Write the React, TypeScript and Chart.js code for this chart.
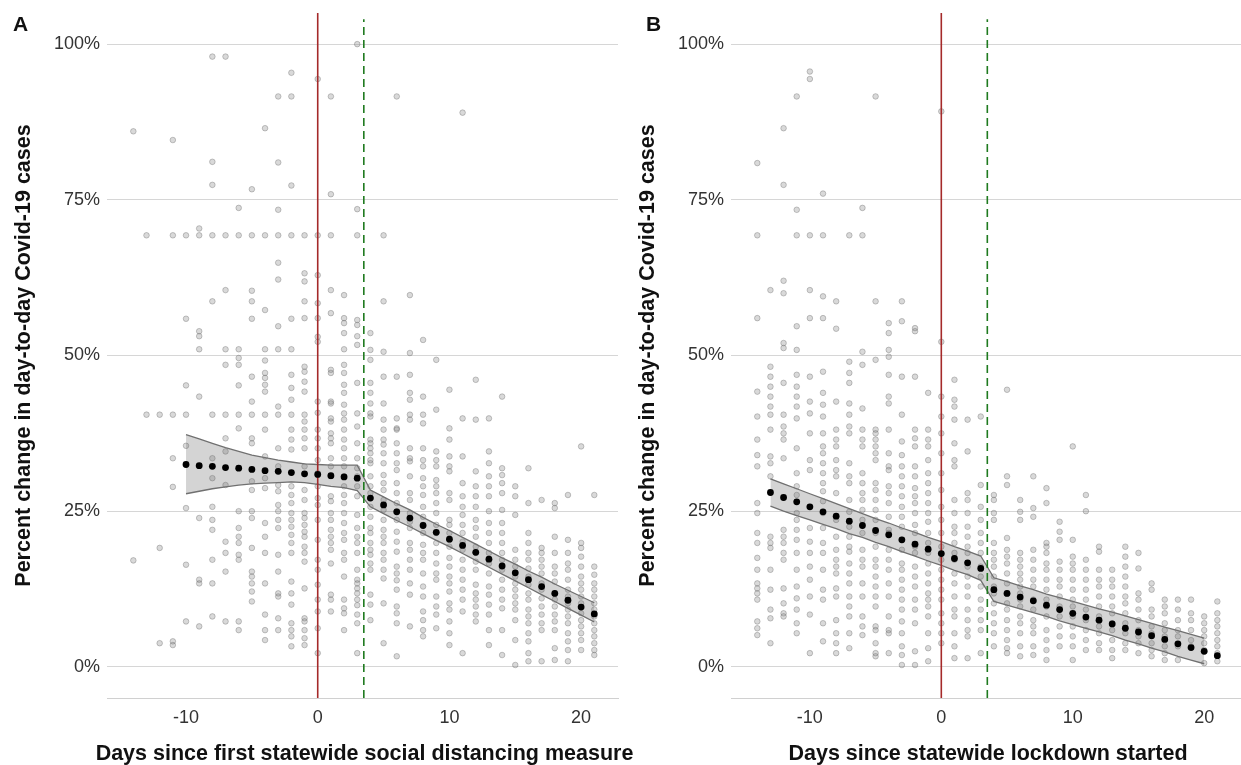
import React, { useEffect, useRef } from "react";
import { Chart, registerables } from "chart.js";

Chart.register(...registerables);

const FONT = "'Liberation Sans', Arial, Helvetica, sans-serif";

const X_MIN = -16;
const X_MAX = 22.8;
const Y_MIN = -5;
const Y_MAX = 105;
const X_TICKS = [-10, 0, 10, 20];
const Y_TICKS = [0, 25, 50, 75, 100];
const START_DAY = 0;
const LAG_DAY = 3.5;

const Y_TITLE = "Percent change in day-to-day Covid-19 cases";
const X_TITLE_A = "Days since first statewide social distancing measure";
const X_TITLE_B = "Days since statewide lockdown started";

// ---------- Panel A ----------
const scatterDaysA = [-14, -13, -12, -11, -10, -9, -8, -7, -6, -5, -4, -3, -2, -1, 0, 1, 2, 3, 4, 5, 6, 7, 8, 9, 10, 11, 12, 13, 14, 15, 16, 17, 18, 19, 20, 21];
const scatterValuesA = [
  [86.0, 17.1],
  [69.3, 40.5],
  [40.5, 19.1, 3.8],
  [84.6, 69.3, 40.5, 33.5, 28.9, 4.1, 3.5],
  [69.3, 55.9, 45.2, 40.5, 35.5, 25.5, 16.4, 7.3],
  [70.4, 69.3, 53.9, 53.1, 51.0, 43.4, 23.9, 14.0, 13.4, 6.5],
  [98.0, 81.1, 77.4, 69.3, 58.7, 40.5, 33.5, 30.3, 25.7, 23.6, 22.0, 17.2, 13.4, 8.1],
  [98.0, 69.3, 60.5, 51.0, 48.5, 40.5, 36.7, 34.6, 29.2, 20.1, 18.3, 15.3, 7.3],
  [73.7, 69.3, 51.0, 49.6, 48.5, 45.2, 40.5, 38.3, 25.0, 22.3, 20.9, 19.9, 18.0, 17.2, 7.3, 5.9],
  [76.7, 69.3, 60.4, 58.7, 55.9, 46.6, 42.6, 40.5, 36.7, 35.9, 29.8, 28.4, 25.0, 23.9, 19.1, 15.3, 14.5, 13.4, 12.1, 10.5],
  [86.5, 69.3, 57.3, 51.0, 49.2, 47.2, 46.4, 45.3, 44.2, 40.5, 38.1, 33.8, 30.3, 28.7, 23.1, 20.9, 18.3, 13.4, 8.4, 5.9, 4.3],
  [91.6, 81.0, 73.4, 69.3, 64.9, 62.2, 54.7, 51.0, 41.8, 40.5, 35.1, 32.2, 29.2, 28.2, 26.0, 25.0, 23.6, 22.3, 18.0, 15.3, 11.8, 11.3, 7.8, 5.9],
  [95.4, 91.6, 77.3, 69.3, 55.9, 51.0, 46.9, 44.8, 42.9, 40.5, 38.1, 36.5, 34.9, 29.0, 27.6, 26.3, 24.7, 23.6, 22.5, 21.2, 19.9, 18.3, 13.7, 11.8, 10.0, 7.0, 5.9, 4.9, 3.3],
  [69.3, 63.2, 61.9, 58.7, 56.0, 48.2, 47.4, 45.8, 44.2, 40.5, 39.4, 38.1, 36.7, 35.1, 32.2, 28.4, 26.8, 24.7, 23.9, 22.8, 21.7, 20.9, 19.3, 18.3, 16.9, 12.6, 7.8, 7.3, 5.9, 4.6, 3.5],
  [94.4, 69.3, 62.9, 58.4, 56.0, 53.0, 52.2, 42.6, 40.8, 38.1, 36.7, 35.1, 33.2, 31.1, 29.0, 27.1, 26.0, 23.6, 20.4, 17.2, 15.6, 13.2, 10.8, 8.9, 6.2, 2.2],
  [91.6, 75.9, 69.3, 60.5, 56.8, 47.7, 47.2, 42.6, 42.3, 39.9, 39.4, 37.5, 36.7, 35.9, 33.5, 32.2, 30.6, 27.4, 26.6, 24.7, 23.6, 22.0, 20.9, 19.9, 18.8, 16.6, 11.6, 10.8, 8.9],
  [59.7, 56.0, 55.2, 53.6, 51.0, 48.5, 47.2, 45.3, 44.0, 42.1, 40.7, 39.7, 38.1, 36.5, 35.1, 33.5, 32.2, 30.6, 29.0, 27.6, 26.3, 24.7, 23.1, 21.5, 20.4, 18.3, 17.2, 14.5, 10.8, 9.4, 8.6, 5.9],
  [100.0, 73.5, 69.3, 55.7, 54.9, 53.1, 51.7, 45.6, 40.7, 38.6, 35.9, 33.5, 31.9, 30.6, 29.0, 27.4, 24.4, 22.3, 20.9, 19.9, 18.3, 15.6, 14.0, 13.4, 12.6, 11.8, 10.8, 9.9, 8.4, 7.0, 2.2],
  [53.6, 50.9, 49.3, 45.6, 44.0, 42.3, 40.7, 40.2, 36.5, 35.9, 35.1, 34.3, 33.2, 32.7, 30.6, 29.0, 27.9, 25.7, 24.1, 22.3, 21.5, 19.9, 18.8, 18.0, 16.6, 15.6, 11.6, 10.0, 7.5],
  [69.3, 58.7, 50.6, 46.6, 42.3, 39.7, 38.1, 36.5, 35.7, 34.3, 32.7, 30.8, 29.5, 28.4, 26.8, 25.2, 23.6, 22.0, 20.9, 19.9, 18.3, 17.2, 15.6, 14.2, 10.2, 3.8],
  [91.6, 46.6, 39.9, 38.3, 38.1, 35.9, 34.3, 32.7, 31.6, 29.5, 27.9, 26.3, 25.0, 23.6, 21.7, 20.1, 18.5, 16.1, 15.0, 13.9, 12.4, 9.7, 8.6, 7.0, 1.7],
  [59.7, 50.4, 46.9, 44.0, 42.9, 40.5, 39.7, 35.1, 33.5, 33.0, 30.6, 27.9, 26.8, 24.7, 23.3, 22.3, 19.9, 18.8, 17.2, 15.6, 13.4, 11.6, 6.5],
  [52.5, 43.4, 40.5, 39.1, 35.1, 33.2, 32.2, 30.3, 29.0, 27.6, 25.7, 24.1, 22.8, 21.5, 19.6, 18.3, 17.2, 15.0, 12.9, 11.3, 8.9, 7.5, 5.9, 4.9],
  [49.3, 41.3, 34.6, 33.2, 32.2, 30.0, 29.0, 27.9, 26.3, 24.7, 22.8, 21.5, 19.9, 18.3, 16.6, 15.0, 14.0, 11.3, 9.7, 8.4, 6.2],
  [44.5, 38.3, 36.5, 33.8, 32.2, 31.4, 27.9, 26.8, 23.6, 22.8, 21.5, 20.4, 19.3, 17.5, 16.1, 14.5, 13.4, 12.1, 10.2, 9.2, 7.3, 5.4, 3.5],
  [89.0, 39.9, 33.8, 29.5, 27.4, 25.7, 24.4, 22.8, 21.5, 20.1, 18.8, 17.2, 15.6, 14.0, 12.4, 10.8, 8.9, 2.2],
  [46.1, 39.7, 31.4, 29.0, 27.4, 25.7, 23.6, 22.3, 20.9, 19.3, 18.3, 16.9, 15.6, 13.2, 11.8, 10.8, 9.7, 8.4, 7.3],
  [39.9, 34.6, 32.7, 30.6, 29.0, 27.4, 25.0, 23.1, 21.5, 19.9, 18.3, 16.6, 15.0, 12.9, 11.6, 10.0, 8.4, 5.9, 3.5],
  [43.4, 31.9, 30.8, 29.5, 27.9, 25.2, 23.1, 21.5, 19.9, 18.3, 17.2, 15.6, 14.0, 12.4, 10.8, 9.4, 5.9, 1.9],
  [29.0, 27.4, 24.4, 18.8, 17.2, 16.1, 14.5, 13.4, 12.4, 11.3, 10.2, 9.2, 7.5, 4.3, 0.3],
  [31.9, 26.3, 21.5, 19.9, 18.3, 17.2, 15.8, 14.5, 13.2, 11.8, 10.8, 9.2, 8.1, 7.0, 5.4, 4.1, 2.2, 0.9],
  [26.8, 19.1, 18.3, 17.2, 16.1, 15.0, 13.4, 12.4, 11.0, 9.7, 8.4, 7.0, 5.9, 0.9],
  [26.3, 25.5, 20.9, 18.3, 16.1, 15.0, 13.7, 11.8, 10.8, 9.7, 8.4, 7.3, 5.9, 3.0, 1.1],
  [27.6, 20.4, 18.3, 16.6, 15.6, 14.0, 12.4, 11.3, 10.2, 9.2, 8.1, 7.0, 5.4, 4.1, 2.7, 0.9],
  [35.4, 19.9, 19.1, 17.7, 16.1, 14.5, 13.4, 12.4, 11.3, 10.2, 8.6, 7.5, 6.5, 5.4, 4.3, 2.7],
  [27.6, 16.1, 14.8, 13.4, 12.4, 11.3, 10.2, 9.2, 8.1, 7.0, 5.9, 4.9, 3.8, 2.7, 1.9],
];
const fitDaysA = [-10, -9, -8, -7, -6, -5, -4, -3, -2, -1, 0, 1, 2, 3, 4, 5, 6, 7, 8, 9, 10, 11, 12, 13, 14, 15, 16, 17, 18, 19, 20, 21];
const fitA = [32.5, 32.3, 32.2, 32.0, 31.9, 31.7, 31.5, 31.4, 31.2, 31.0, 30.9, 30.7, 30.5, 30.3, 27.1, 26.0, 24.9, 23.9, 22.7, 21.6, 20.5, 19.5, 18.4, 17.3, 16.2, 15.1, 14.0, 12.9, 11.8, 10.7, 9.6, 8.5];
const bandDaysA = fitDaysA;
const bandUpperA = [37.3, 36.6, 35.9, 35.2, 34.6, 34.0, 33.6, 33.2, 32.9, 32.6, 32.5, 32.4, 32.4, 32.4, 28.4, 27.3, 26.2, 25.2, 24.0, 22.9, 21.9, 20.8, 19.7, 18.6, 17.5, 16.5, 15.4, 14.4, 13.3, 12.3, 11.3, 10.3];
const bandLowerA = [27.8, 28.2, 28.6, 28.9, 29.2, 29.4, 29.5, 29.6, 29.7, 29.6, 29.3, 29.0, 28.8, 28.3, 25.7, 24.6, 23.5, 22.5, 21.4, 20.3, 19.3, 18.2, 17.1, 16.0, 14.9, 13.8, 12.7, 11.6, 10.5, 9.4, 8.3, 7.2];

// ---------- Panel B ----------
const scatterDaysB = [-14, -13, -12, -11, -10, -9, -8, -7, -6, -5, -4, -3, -2, -1, 0, 1, 2, 3, 4, 5, 6, 7, 8, 9, 10, 11, 12, 13, 14, 15, 16, 17, 18, 19, 20, 21];
const scatterValuesB = [
  [80.9, 69.3, 56.0, 44.2, 40.2, 36.5, 34.0, 32.2, 26.3, 24.7, 21.5, 19.9, 17.5, 15.6, 13.4, 12.6, 11.8, 10.8, 7.3, 6.2, 5.1],
  [60.5, 48.2, 46.6, 45.0, 43.4, 41.8, 40.5, 38.1, 33.8, 32.7, 30.6, 20.9, 19.9, 19.1, 15.6, 12.4, 9.2, 7.8, 3.8],
  [86.5, 77.4, 62.0, 60.0, 52.0, 51.2, 45.6, 40.5, 38.6, 37.5, 36.5, 33.5, 22.0, 20.9, 19.9, 18.3, 17.2, 12.6, 10.2, 8.6, 8.1],
  [91.6, 73.4, 69.3, 54.7, 50.9, 46.9, 45.0, 43.4, 41.8, 39.9, 35.1, 31.1, 29.0, 27.6, 24.7, 23.6, 22.0, 20.4, 18.3, 15.6, 12.9, 11.0, 9.2, 7.0, 5.4],
  [95.6, 94.4, 69.3, 60.5, 56.0, 46.6, 42.6, 40.7, 37.5, 33.2, 31.6, 22.3, 20.1, 18.3, 16.1, 14.0, 11.3, 8.4, 2.2],
  [76.0, 69.3, 59.5, 56.0, 47.4, 44.0, 42.1, 40.2, 37.5, 35.4, 34.3, 32.7, 31.1, 29.5, 28.2, 26.6, 24.7, 22.3, 19.9, 18.3, 15.6, 12.4, 10.8, 7.0, 4.1],
  [58.7, 54.3, 42.6, 38.1, 36.5, 35.4, 33.2, 31.6, 30.6, 27.9, 23.6, 20.9, 18.8, 17.2, 16.1, 15.0, 12.6, 11.3, 7.5, 5.4, 3.8, 2.2],
  [69.3, 49.0, 47.2, 45.6, 42.3, 40.5, 38.6, 37.5, 32.7, 30.6, 29.5, 26.8, 24.9, 22.5, 20.9, 19.3, 18.5, 16.6, 15.0, 13.4, 11.3, 9.7, 8.1, 5.4, 3.0],
  [73.7, 69.3, 50.6, 48.5, 41.5, 38.1, 36.5, 35.4, 31.1, 29.5, 27.9, 26.8, 25.2, 23.6, 21.5, 18.8, 17.2, 16.1, 13.4, 11.3, 8.1, 6.5, 5.1],
  [91.6, 58.7, 49.3, 38.1, 37.5, 36.5, 35.4, 34.3, 33.2, 29.5, 28.4, 26.8, 25.2, 23.6, 21.5, 19.3, 17.2, 16.1, 14.5, 12.9, 11.3, 9.7, 6.5, 5.9, 3.8, 2.2, 1.7],
  [55.2, 53.6, 50.9, 49.8, 46.9, 43.4, 42.3, 38.1, 34.3, 32.2, 31.6, 29.0, 27.9, 26.3, 24.1, 22.0, 21.5, 18.8, 17.2, 15.6, 13.4, 11.3, 8.1, 5.9, 5.4, 2.2],
  [58.7, 55.5, 46.6, 40.5, 36.2, 34.0, 32.2, 30.6, 29.0, 27.4, 25.7, 24.1, 22.5, 20.4, 18.8, 16.6, 15.6, 14.0, 12.4, 10.8, 9.2, 7.3, 5.4, 3.3, 1.9, 0.3],
  [54.4, 53.9, 46.6, 38.1, 36.7, 35.4, 32.2, 30.6, 28.7, 27.4, 26.3, 24.7, 22.8, 21.5, 19.3, 18.3, 16.1, 14.5, 12.9, 10.8, 9.2, 7.0, 2.5, 0.3],
  [44.0, 38.1, 36.5, 35.4, 33.2, 31.1, 29.5, 27.9, 26.3, 24.7, 23.3, 21.5, 19.9, 18.3, 16.6, 15.0, 13.4, 11.8, 10.8, 9.7, 8.1, 5.4, 3.0, 0.9],
  [89.2, 52.2, 43.4, 40.2, 37.5, 34.3, 31.1, 28.4, 25.7, 23.6, 21.5, 19.3, 17.2, 15.6, 14.0, 12.4, 10.8, 8.6, 7.0, 5.4, 3.8],
  [46.1, 42.9, 41.8, 39.7, 35.9, 33.2, 32.2, 26.8, 24.7, 22.5, 21.5, 19.9, 18.3, 17.2, 15.0, 13.4, 11.3, 9.2, 8.1, 5.4, 3.3, 1.4],
  [39.7, 34.6, 27.9, 26.8, 24.7, 22.5, 20.9, 19.3, 18.3, 16.1, 14.5, 12.9, 11.3, 9.2, 7.5, 5.9, 4.9, 1.4],
  [40.2, 29.2, 25.7, 23.6, 21.5, 19.9, 18.3, 16.1, 14.5, 12.9, 10.8, 9.2, 7.5, 5.9, 2.2],
  [27.6, 26.8, 24.7, 23.6, 19.9, 18.3, 17.2, 16.1, 14.5, 12.9, 11.8, 10.2, 8.6, 7.0, 5.4, 3.3],
  [44.5, 30.6, 29.2, 20.7, 18.8, 17.7, 16.6, 15.0, 13.4, 11.8, 10.2, 9.2, 7.5, 5.9, 4.3, 3.0, 2.2],
  [26.8, 24.9, 23.6, 18.3, 17.2, 16.1, 15.0, 14.0, 12.9, 11.8, 10.8, 9.7, 8.1, 7.0, 5.4, 3.3, 1.7],
  [30.6, 25.5, 24.1, 18.8, 17.2, 15.6, 14.0, 12.9, 10.8, 9.2, 7.5, 6.5, 5.4, 3.3, 1.9],
  [28.7, 26.3, 19.9, 19.3, 18.3, 16.6, 15.6, 14.0, 12.4, 10.8, 9.7, 8.1, 5.9, 4.3, 2.7, 1.1],
  [23.3, 21.7, 20.4, 16.9, 15.6, 14.0, 12.9, 11.3, 9.7, 8.1, 6.5, 4.9, 3.3],
  [35.4, 20.4, 17.7, 16.6, 15.6, 14.0, 12.4, 10.8, 9.7, 8.1, 6.5, 4.9, 3.3, 1.1],
  [27.6, 25.0, 17.2, 15.6, 14.0, 12.4, 10.8, 9.2, 7.5, 5.9, 4.3, 2.7],
  [19.3, 18.5, 15.6, 14.0, 12.9, 11.3, 9.7, 8.1, 6.5, 5.4, 3.8, 2.7],
  [15.6, 14.0, 12.9, 11.3, 9.7, 8.6, 7.0, 5.9, 4.3, 2.7, 1.4],
  [19.3, 17.7, 16.1, 14.5, 12.9, 11.3, 10.2, 8.6, 7.0, 5.4, 3.8, 2.7],
  [18.3, 15.8, 11.8, 10.8, 9.2, 7.5, 5.9, 4.9, 3.8, 2.2],
  [13.4, 12.4, 9.2, 8.1, 6.5, 5.4, 3.8, 2.7, 1.7],
  [10.8, 9.7, 8.6, 7.0, 5.9, 4.9, 3.3, 2.2, 1.1],
  [10.8, 9.2, 7.5, 5.9, 4.9, 3.3, 1.1],
  [10.8, 8.6, 7.5, 5.9, 4.3, 3.3],
  [8.1, 7.0, 5.9, 4.9, 3.8, 2.7, 0.6],
  [10.5, 8.6, 7.5, 6.5, 5.4, 4.3, 3.3, 2.2, 0.9],
];
const fitDaysB = [-13, -12, -11, -10, -9, -8, -7, -6, -5, -4, -3, -2, -1, 0, 1, 2, 3, 4, 5, 6, 7, 8, 9, 10, 11, 12, 13, 14, 15, 16, 17, 18, 19, 20, 21];
const fitB = [28.0, 27.2, 26.5, 25.7, 24.9, 24.2, 23.4, 22.7, 21.9, 21.2, 20.4, 19.7, 18.9, 18.2, 17.4, 16.7, 15.8, 12.4, 11.8, 11.2, 10.6, 9.9, 9.2, 8.6, 8.0, 7.5, 6.9, 6.2, 5.6, 5.0, 4.4, 3.7, 3.1, 2.5, 1.8];
const bandDaysB = [-13, -12, -11, -10, -9, -8, -7, -6, -5, -4, -3, -2, -1, 0, 1, 2, 3, 4, 5, 6, 7, 8, 9, 10, 11, 12, 13, 14, 15, 16, 17, 18, 19, 20];
const bandUpperB = [30.2, 29.4, 28.6, 27.8, 27.0, 26.2, 25.4, 24.6, 23.8, 23.1, 22.3, 21.6, 20.8, 20.1, 19.3, 18.6, 17.8, 14.3, 13.7, 13.0, 12.4, 11.7, 11.1, 10.5, 9.9, 9.3, 8.8, 8.2, 7.6, 7.0, 6.4, 5.8, 5.2, 4.6];
const bandLowerB = [25.8, 25.0, 24.3, 23.6, 22.9, 22.2, 21.4, 20.8, 20.0, 19.3, 18.5, 17.8, 17.0, 16.3, 15.5, 14.8, 13.9, 10.5, 9.9, 9.3, 8.7, 8.1, 7.4, 6.8, 6.2, 5.6, 5.0, 4.3, 3.7, 3.0, 2.4, 1.7, 1.1, 0.5];

type PanelProps = {
  scatterDays: number[];
  scatterValues: number[][];
  fitDays: number[];
  fitValues: number[];
  bandDays: number[];
  bandUpper: number[];
  bandLower: number[];
  xTitle: string;
  width: number;
  left: number;
  padRight: number;
};

const TITLE_SIZE = 21.5;

// Draws the x-axis title centred under the plot area, allowed to be wider than the plot.
const xTitlePlugin = {
  id: "wideXTitle",
  afterDraw(chart: any, _args: any, opts: any) {
    const { ctx, chartArea } = chart;
    ctx.save();
    ctx.font = `bold ${TITLE_SIZE}px ${FONT}`;
    ctx.fillStyle = "#111111";
    ctx.textAlign = "center";
    ctx.textBaseline = "alphabetic";
    ctx.fillText(opts.text, (chartArea.left + chartArea.right) / 2 + 2, 760);
    ctx.restore();
  },
};

function Panel(p: PanelProps) {
  const ref = useRef<HTMLCanvasElement>(null);
  useEffect(() => {
    if (!ref.current) return;
    const scatter: { x: number; y: number }[] = [];
    p.scatterDays.forEach((d, i) => {
      p.scatterValues[i].forEach((v) => scatter.push({ x: d, y: v }));
    });
    const chart = new Chart(ref.current, {
      type: "line",
      plugins: [xTitlePlugin],
      data: {
        datasets: [
          {
            label: "fit",
            data: p.fitDays.map((d, i) => ({ x: d, y: p.fitValues[i] })),
            showLine: false,
            pointRadius: 3.4,
            pointBackgroundColor: "#000000",
            pointBorderWidth: 0,
          },
          {
            label: "start",
            data: [
              { x: START_DAY, y: Y_MIN },
              { x: START_DAY, y: Y_MAX },
            ],
            borderColor: "#a52a2a",
            borderWidth: 1.6,
            pointRadius: 0,
          },
          {
            label: "lag",
            data: [
              { x: LAG_DAY, y: Y_MIN },
              { x: LAG_DAY, y: 104 },
            ],
            borderColor: "#1f7a1f",
            borderWidth: 1.6,
            borderDash: [8, 5],
            pointRadius: 0,
          },
          {
            label: "upper",
            data: p.bandDays.map((d, i) => ({ x: d, y: p.bandUpper[i] })),
            borderColor: "#707070",
            borderWidth: 1.3,
            pointRadius: 0,
            fill: false,
          },
          {
            label: "lower",
            data: p.bandDays.map((d, i) => ({ x: d, y: p.bandLower[i] })),
            borderColor: "#707070",
            borderWidth: 1.3,
            pointRadius: 0,
            fill: "-1",
            backgroundColor: "rgba(100,100,100,0.28)",
          },
          {
            label: "obs",
            data: scatter,
            showLine: false,
            pointRadius: 2.8,
            pointBackgroundColor: "rgba(130,130,130,0.3)",
            pointBorderColor: "rgba(100,100,100,0.4)",
            pointBorderWidth: 0.9,
          },
        ],
      },
      options: {
        animation: false,
        responsive: false,
        events: [],
        layout: { autoPadding: false, padding: { top: 13, right: p.padRight, bottom: 0, left: 0 } },
        plugins: {
          legend: { display: false },
          tooltip: { enabled: false },
          wideXTitle: { text: p.xTitle },
        },
        scales: {
          x: {
            type: "linear",
            min: X_MIN,
            max: X_MAX,
            afterBuildTicks: (s: any) => {
              s.ticks = X_TICKS.map((v) => ({ value: v }));
            },
            afterFit: (s: any) => {
              s.height = 67;
              s.paddingLeft = 0;
              s.paddingRight = 0;
              s.paddingTop = 0;
              s.paddingBottom = 0;
            },
            grid: { display: false, drawTicks: false },
            border: { display: true, color: "#d0d0d0", width: 1 },
            ticks: {
              padding: 9,
              color: "#333333",
              font: { size: 18, family: FONT },
              maxRotation: 0,
              callback: (v: any) => String(v),
            },
            title: { display: false },
          },
          y: {
            type: "linear",
            min: Y_MIN,
            max: Y_MAX,
            afterBuildTicks: (s: any) => {
              s.ticks = Y_TICKS.map((v) => ({ value: v }));
            },
            afterFit: (s: any) => {
              s.width = 107;
              s.paddingLeft = 0;
              s.paddingRight = 0;
              s.paddingTop = 0;
              s.paddingBottom = 0;
            },
            grid: { color: "#d6d6d6", lineWidth: 1, drawTicks: false },
            border: { display: false },
            ticks: {
              padding: 7,
              color: "#333333",
              font: { size: 18, family: FONT },
              callback: (v: any) => v + "%",
            },
            title: {
              display: true,
              text: Y_TITLE,
              color: "#111111",
              font: { size: TITLE_SIZE, weight: "bold", family: FONT },
              padding: { top: 11.5, bottom: 0 },
            },
          },
        },
      },
    } as any);
    return () => chart.destroy();
  }, []);
  return (
    <canvas
      ref={ref}
      width={p.width}
      height={765}
      style={{ position: "absolute", left: p.left, top: 0, width: p.width, height: 765 }}
    />
  );
}

const labelStyle: React.CSSProperties = {
  position: "absolute",
  top: 13,
  fontFamily: FONT,
  fontWeight: "bold",
  fontSize: 21,
  lineHeight: "21px",
  color: "#111",
};

export default function App() {
  return (
    <div style={{ position: "absolute", left: 0, top: 0, width: 1241, height: 765, background: "#fff", overflow: "hidden" }}>
      <Panel
        scatterDays={scatterDaysB}
        scatterValues={scatterValuesB}
        fitDays={fitDaysB}
        fitValues={fitB}
        bandDays={bandDaysB}
        bandUpper={bandUpperB}
        bandLower={bandLowerB}
        xTitle={X_TITLE_B}
        width={617}
        left={624}
        padRight={0}
      />
      <Panel
        scatterDays={scatterDaysA}
        scatterValues={scatterValuesA}
        fitDays={fitDaysA}
        fitValues={fitA}
        bandDays={bandDaysA}
        bandUpper={bandUpperA}
        bandLower={bandLowerA}
        xTitle={X_TITLE_A}
        width={640}
        left={0}
        padRight={22}
      />
      <div style={{ ...labelStyle, left: 13 }}>A</div>
      <div style={{ ...labelStyle, left: 646 }}>B</div>
    </div>
  );
}
